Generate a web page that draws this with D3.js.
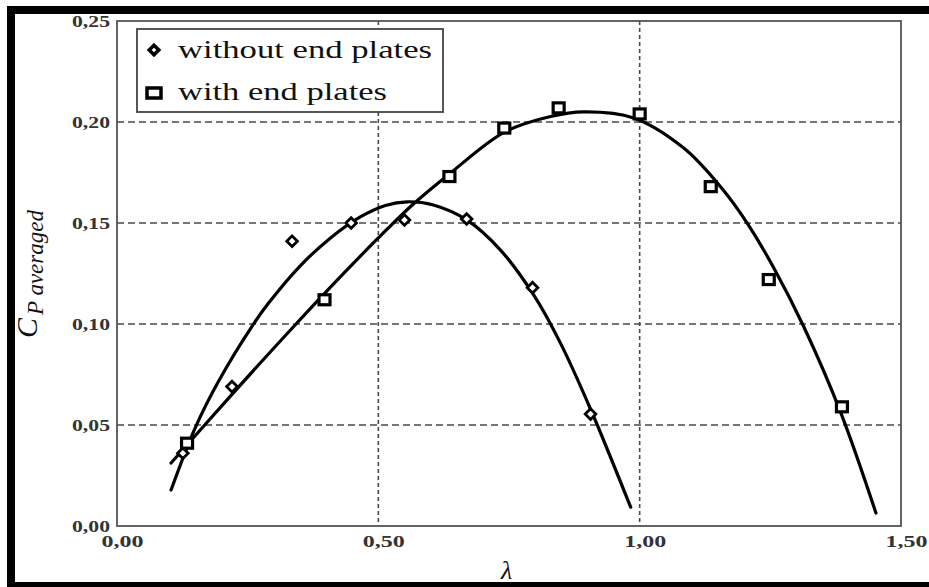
<!DOCTYPE html>
<html>
<head>
<meta charset="utf-8">
<script src="https://cdn.jsdelivr.net/npm/d3@7"></script>
<style>
  html, body { margin: 0; padding: 0; background: #fff; }
  svg { display: block; }
</style>
</head>
<body>
<div id="chart"></div>
<script>
var lambdaWithout = [0.126, 0.220, 0.335, 0.448, 0.550, 0.669, 0.795, 0.906];
var cpWithout     = [0.036, 0.069, 0.141, 0.150, 0.1515, 0.152, 0.118, 0.0554];

var lambdaWith = [0.134, 0.397, 0.636, 0.741, 0.845, 1.000, 1.136, 1.247, 1.387];
var cpWith     = [0.041, 0.112, 0.173, 0.197, 0.207, 0.204, 0.168, 0.122, 0.059];

// fitted curves
var curveWithoutX = [0.1034, 0.1494, 0.1935, 0.2586, 0.2893, 0.3506, 0.4080, 0.4655, 0.5134, 0.5556, 0.6054, 0.6705, 0.7337, 0.7969, 0.8487, 0.9061, 0.9828];
var curveWithoutY = [0.0178, 0.0485, 0.0713, 0.0990, 0.1101, 0.1288, 0.1425, 0.1530, 0.1587, 0.1605, 0.1589, 0.1513, 0.1366, 0.1145, 0.0904, 0.0578, 0.0093];

var curveWithX = [0.1034, 0.2222, 0.3372, 0.4272, 0.5000, 0.5670, 0.6360, 0.7414, 0.8295, 0.8927, 0.9885, 1.0843, 1.1552, 1.2069, 1.2567, 1.3142, 1.3851, 1.4521];
var curveWithY = [0.0312, 0.0658, 0.0985, 0.1233, 0.1426, 0.1594, 0.1743, 0.1950, 0.2027, 0.2050, 0.2020, 0.1871, 0.1678, 0.1495, 0.1277, 0.0985, 0.0559, 0.0064];

var xTicks = [0, 0.5, 1.0, 1.5];
var yTicks = [0, 0.05, 0.10, 0.15, 0.20, 0.25];
var xTickLabels = ["0,00", "0,50", "1,00", "1,50"];
var yTickLabels = ["0,00", "0,05", "0,10", "0,15", "0,20", "0,25"];
var legendLabels = ["without end plates", "with end plates"];

var W = 929, H = 587;
var plotLeft = 117, plotRight = 901, plotTop = 21, plotBottom = 526;

var svg = d3.select("#chart").append("svg")
    .attr("width", W)
    .attr("height", H);

var x = d3.scaleLinear().domain([0, 1.5]).range([plotLeft, plotRight]);
var y = d3.scaleLinear().domain([0, 0.25]).range([plotBottom, plotTop]);

var serif = "'Liberation Serif', 'Times New Roman', Times, serif";

// gridlines
svg.append("g")
    .selectAll("line")
    .data(yTicks.filter(function(d) { return d > 0 && d < 0.25; }))
    .enter().append("line")
    .attr("x1", plotLeft).attr("x2", plotRight)
    .attr("y1", function(d) { return y(d); })
    .attr("y2", function(d) { return y(d); })
    .style("stroke", "#4a4a4a")
    .style("stroke-width", 1.6)
    .style("stroke-dasharray", "7,4");

svg.append("g")
    .selectAll("line")
    .data(xTicks.filter(function(d) { return d > 0 && d < 1.5; }))
    .enter().append("line")
    .attr("x1", function(d) { return x(d); })
    .attr("x2", function(d) { return x(d); })
    .attr("y1", plotTop).attr("y2", plotBottom)
    .style("stroke", "#4a4a4a")
    .style("stroke-width", 1.6)
    .style("stroke-dasharray", "4,3");

// plot frame
svg.append("rect")
    .attr("x", plotLeft).attr("y", plotTop)
    .attr("width", plotRight - plotLeft).attr("height", plotBottom - plotTop)
    .style("fill", "none")
    .style("stroke", "#555")
    .style("stroke-width", 1.8);

// y axis labels
var yAxis = svg.append("g")
    .attr("transform", "translate(" + plotLeft + ",0)")
    .call(d3.axisLeft(y).tickValues(yTicks).tickSize(0).tickPadding(7)
        .tickFormat(function(d, i) { return yTickLabels[i]; }));
yAxis.select(".domain").remove();
yAxis.selectAll("text")
    .attr("font-family", serif)
    .attr("font-size", 16)
    .attr("font-weight", "bold")
    .attr("fill", "#333")
    .attr("textLength", 38)
    .attr("lengthAdjust", "spacingAndGlyphs");

// x axis labels
var xAxis = svg.append("g")
    .attr("transform", "translate(0," + plotBottom + ")")
    .call(d3.axisBottom(x).tickValues(xTicks).tickSize(0).tickPadding(10)
        .tickFormat(function(d, i) { return xTickLabels[i]; }));
xAxis.select(".domain").remove();
xAxis.selectAll("text")
    .attr("font-family", serif)
    .attr("font-size", 16)
    .attr("font-weight", "bold")
    .attr("fill", "#333")
    .attr("dx", 5)
    .attr("textLength", 42)
    .attr("lengthAdjust", "spacingAndGlyphs");

// curves
var line = d3.line()
    .x(function(d) { return x(d[0]); })
    .y(function(d) { return y(d[1]); })
    .curve(d3.curveCatmullRom.alpha(0.5));

svg.append("path")
    .datum(d3.zip(curveWithoutX, curveWithoutY))
    .attr("d", line)
    .style("fill", "none")
    .style("stroke", "#000")
    .style("stroke-width", 3.2)
    .style("stroke-linecap", "round");

svg.append("path")
    .datum(d3.zip(curveWithX, curveWithY))
    .attr("d", line)
    .style("fill", "none")
    .style("stroke", "#000")
    .style("stroke-width", 3.2)
    .style("stroke-linecap", "round");

// markers
var diamond = d3.symbol().type(d3.symbolDiamond2).size(72);

svg.append("g")
    .selectAll("path")
    .data(d3.zip(lambdaWithout, cpWithout))
    .enter().append("path")
    .attr("d", diamond)
    .attr("transform", function(d) { return "translate(" + x(d[0]) + "," + y(d[1]) + ")"; })
    .style("fill", "#fff")
    .style("stroke", "#000")
    .style("stroke-width", 2.8);

svg.append("g")
    .selectAll("rect")
    .data(d3.zip(lambdaWith, cpWith))
    .enter().append("rect")
    .attr("x", function(d) { return x(d[0]) - 5.5; })
    .attr("y", function(d) { return y(d[1]) - 5; })
    .attr("width", 11)
    .attr("height", 10)
    .style("fill", "#fff")
    .style("stroke", "#000")
    .style("stroke-width", 3.2);

// legend
var legend = svg.append("g");
legend.append("rect")
    .attr("x", 137).attr("y", 29)
    .attr("width", 306).attr("height", 83)
    .style("fill", "#fff")
    .style("stroke", "#444")
    .style("stroke-width", 1.8);

legend.append("path")
    .attr("d", d3.symbol().type(d3.symbolDiamond2).size(60))
    .attr("transform", "translate(154,50)")
    .style("fill", "#fff")
    .style("stroke", "#000")
    .style("stroke-width", 3.5);

legend.append("rect")
    .attr("x", 147).attr("y", 88)
    .attr("width", 14).attr("height", 10)
    .style("fill", "#fff")
    .style("stroke", "#000")
    .style("stroke-width", 3.5);

legend.selectAll("text")
    .data(legendLabels)
    .enter().append("text")
    .attr("x", 178)
    .attr("y", function(d, i) { return i === 0 ? 58 : 100; })
    .attr("font-family", serif)
    .attr("font-size", 25)
    .attr("fill", "#111")
    .attr("textLength", function(d, i) { return i === 0 ? 254 : 209; })
    .attr("lengthAdjust", "spacingAndGlyphs")
    .text(function(d) { return d; });

// axis titles
svg.append("text")
    .attr("transform", "translate(37,338) rotate(-90)")
    .attr("font-family", serif)
    .attr("font-style", "italic")
    .attr("font-size", 30)
    .attr("fill", "#111")
    .text("C");

svg.append("text")
    .attr("transform", "translate(43,315) rotate(-90)")
    .attr("font-family", serif)
    .attr("font-style", "italic")
    .attr("font-size", 23)
    .attr("fill", "#111")
    .text("P averaged");

svg.append("text")
    .attr("x", 501)
    .attr("y", 579)
    .attr("font-family", serif)
    .attr("font-style", "italic")
    .attr("font-size", 26)
    .attr("fill", "#111")
    .text("λ");

// black frame round the figure
svg.append("rect").attr("x", 7).attr("y", 6).attr("width", W - 7).attr("height", 8).style("fill", "#000");
svg.append("rect").attr("x", 7).attr("y", 6).attr("width", 8).attr("height", H - 6).style("fill", "#000");
svg.append("rect").attr("x", 7).attr("y", 582).attr("width", W - 7).attr("height", 5).style("fill", "#000");
</script>
</body>
</html>
